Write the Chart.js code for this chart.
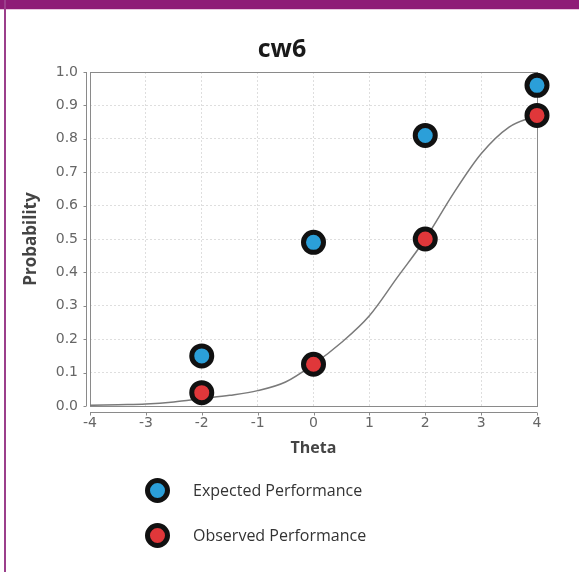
<!DOCTYPE html>
<html>
<head>
<meta charset="utf-8">
<script src="https://cdn.jsdelivr.net/npm/chart.js@4/dist/chart.umd.min.js"></script>
<style>
  html, body { margin: 0; padding: 0; background: #fff; }
  #wrap { position: relative; width: 579px; height: 572px; overflow: hidden; background: #fff; }
  #topbar { position: absolute; left: 0; top: 0; width: 579px; height: 9px; background: #8e1c77; }
  #topline { position: absolute; left: 0; top: 9px; width: 579px; height: 1px; background: #e8c6df; }
  #leftbar { position: absolute; left: 4px; top: 0; width: 2px; height: 572px; background: #9b3f8b; }
  #c { position: absolute; left: 0; top: 0; }
  #title { position: absolute; left: 182px; width: 200px; top: 30px; text-align: center;
           font: bold 25px "Open Sans", sans-serif; color: #1a1a1a; }
  .leg { position: absolute; left: 145px; height: 26px; display: flex; align-items: center;
         font: 16px "Open Sans", sans-serif; color: #333; }
  .dot { width: 15px; height: 15px; border: 5px solid #111; border-radius: 50%; margin-right: 23px; }
</style>
</head>
<body>
<div id="wrap">
  <canvas id="c" width="579" height="572"></canvas>
  <div id="topbar"></div>
  <div id="topline"></div>
  <div id="leftbar"></div>
  <div id="title">cw6</div>
  <div class="leg" style="top:477px"><div class="dot" style="background:#2b9fd9"></div>Expected Performance</div>
  <div class="leg" style="top:522px"><div class="dot" style="background:#e0373a"></div>Observed Performance</div>
</div>
<script>
// Ability levels where performance was measured
const thetaPoints = [-2, 0, 2, 4];
const expectedPerformance = [0.15, 0.49, 0.81, 0.96];
const observedPerformance = [0.04, 0.125, 0.50, 0.87];

// Item characteristic curve, sampled every half unit of theta
const curveTheta = [-4, -3.5, -3, -2.5, -2, -1.5, -1, -0.5, 0, 0.5, 1, 1.5, 2, 2.5, 3, 3.5, 4];
const curveProb  = [0.002, 0.004, 0.006, 0.012, 0.022, 0.032, 0.046, 0.072, 0.125, 0.19, 0.27, 0.385, 0.50, 0.635, 0.755, 0.835, 0.87];

// Tick values
const xTicks = [-4, -3, -2, -1, 0, 1, 2, 3, 4];
const yTicks = [0, 0.1, 0.2, 0.3, 0.4, 0.5, 0.6, 0.7, 0.8, 0.9, 1.0];

const pairs = (xs, ys) => xs.map((x, i) => ({ x, y: ys[i] }));

// Plot frame plus the detached axis lines with their small tick marks
const framePlugin = {
  id: 'frame',
  beforeDatasetsDraw(chart) {
    const { ctx, chartArea: a, scales } = chart;
    ctx.save();
    ctx.strokeStyle = '#8a8a8a';
    ctx.lineWidth = 1;
    ctx.strokeRect(Math.round(a.left) + 0.5, Math.round(a.top) + 0.5,
                   Math.round(a.right - a.left), Math.round(a.bottom - a.top));
    // y axis line, offset to the left
    const ax = Math.round(a.left) - 4 + 0.5;
    ctx.beginPath();
    ctx.moveTo(ax, a.top); ctx.lineTo(ax, a.bottom);
    yTicks.forEach(v => {
      const y = Math.round(scales.y.getPixelForValue(v)) + 0.5;
      ctx.moveTo(ax, y); ctx.lineTo(ax - 3, y);
    });
    // x axis line, offset below
    const ay = Math.round(a.bottom) + 6 + 0.5;
    ctx.moveTo(a.left, ay); ctx.lineTo(a.right, ay);
    xTicks.forEach(v => {
      const x = Math.round(scales.x.getPixelForValue(v)) + 0.5;
      ctx.moveTo(x, ay); ctx.lineTo(x, ay + 3);
    });
    ctx.stroke();
    ctx.restore();
  }
};

const tickFont = { family: 'DejaVu Sans', size: 14 };
const titleFont = { family: 'Open Sans', size: 16, weight: 'bold' };

new Chart(document.getElementById('c'), {
  type: 'scatter',
  data: {
    datasets: [
      {
        label: 'ICC',
        type: 'line',
        data: pairs(curveTheta, curveProb),
        borderColor: '#7a7a7a',
        borderWidth: 1.5,
        pointRadius: 0,
        cubicInterpolationMode: 'monotone',
        fill: false,
        order: 3
      },
      {
        label: 'Expected Performance',
        data: pairs(thetaPoints, expectedPerformance),
        backgroundColor: '#2b9fd9',
        borderColor: '#111',
        borderWidth: 5,
        pointRadius: 10,
        clip: false,
        order: 1
      },
      {
        label: 'Observed Performance',
        data: pairs(thetaPoints, observedPerformance),
        backgroundColor: '#e0373a',
        borderColor: '#111',
        borderWidth: 5,
        pointRadius: 10,
        clip: false,
        order: 2
      }
    ]
  },
  options: {
    responsive: false,
    animation: false,
    events: [],
    layout: { padding: { top: 72, right: 42, bottom: 106, left: 0 } },
    plugins: { legend: { display: false }, title: { display: false }, tooltip: { enabled: false } },
    scales: {
      x: {
        type: 'linear', min: -4, max: 4,
        afterFit(s) { s.height = 60; },
        afterBuildTicks(s) { s.ticks = xTicks.map(v => ({ value: v })); },
        grid: { color: '#dedede', drawTicks: false, lineWidth: 1 },
        border: { display: false, dash: [2, 2] },
        ticks: { font: tickFont, color: '#666', padding: 9 },
        title: { display: true, text: 'Theta', font: titleFont, color: '#444', padding: { top: 0, bottom: 8 } }
      },
      y: {
        type: 'linear', min: 0, max: 1,
        afterFit(s) { s.width = 90; },
        afterBuildTicks(s) { s.ticks = yTicks.map(v => ({ value: v })); },
        grid: { color: '#dedede', drawTicks: false, lineWidth: 1 },
        border: { display: false, dash: [2, 2] },
        ticks: { font: tickFont, color: '#666', padding: 12, callback: v => v.toFixed(1) },
        title: { display: true, text: 'Probability', font: { family: 'Open Sans', size: 17, weight: 'bold' }, color: '#444', padding: { top: 21, bottom: 0 } }
      }
    }
  },
  plugins: [framePlugin]
});
</script>
</body>
</html>
